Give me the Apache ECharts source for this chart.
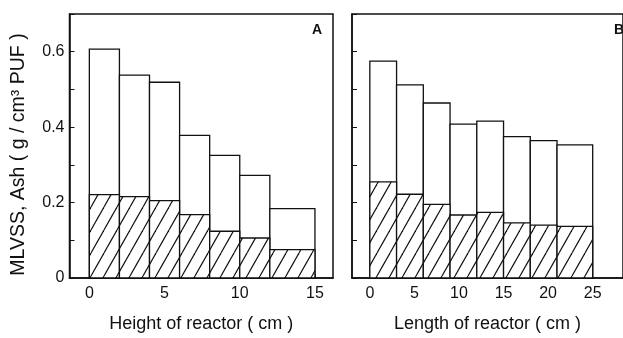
<!DOCTYPE html>
<html>
<head>
<meta charset="utf-8">
<script src="https://cdn.jsdelivr.net/npm/echarts@6/dist/echarts.min.js"></script>
<style>
html,body{margin:0;padding:0;background:#fff;}
#chart{width:623px;height:338px;}
</style>
</head>
<body>
<div id="chart"></div>
<script>
// ---- data ----
const aEdges = [0, 2, 4, 6, 8, 10, 12, 15];
const aMLVSS = [0.607, 0.538, 0.519, 0.378, 0.325, 0.272, 0.184];
const aAsh   = [0.221, 0.216, 0.205, 0.168, 0.124, 0.106, 0.075];
const bEdges = [0, 3, 6, 9, 12, 15, 18, 21, 25];
const bMLVSS = [0.575, 0.512, 0.464, 0.408, 0.416, 0.375, 0.364, 0.353];
const bAsh   = [0.255, 0.222, 0.195, 0.167, 0.174, 0.146, 0.140, 0.137];
const aTicks = [0, 5, 10, 15];
const bTicks = [0, 5, 10, 15, 20, 25];
const yLabels = [0, 0.2, 0.4, 0.6];
const yTicks = [0, 0.1, 0.2, 0.3, 0.4, 0.5, 0.6, 0.7];
const panelA = 'A', panelB = 'B';
const xNameA = 'Height of reactor ( cm )';
const xNameB = 'Length of reactor ( cm )';
const yName = 'MLVSS, Ash ( g / cm³ PUF )';

// ---- hatch pattern ----
function makeHatch() {
  const w = 13, h = 23;
  const c = document.createElement('canvas');
  c.width = w; c.height = h;
  const ctx = c.getContext('2d');
  ctx.fillStyle = '#fff';
  ctx.fillRect(0, 0, w, h);
  ctx.strokeStyle = '#111';
  ctx.lineWidth = 1.2;
  for (let k = -1; k <= 1; k++) {
    ctx.beginPath();
    ctx.moveTo(k * w, h);
    ctx.lineTo(k * w + w, 0);
    ctx.stroke();
  }
  return c;
}
const hatch = { image: makeHatch(), repeat: 'repeat' };

function toRects(edges, vals) {
  return vals.map((v, i) => [edges[i], edges[i + 1], v]);
}
function renderBar(fill) {
  return function (params, api) {
    const p0 = api.coord([api.value(0), api.value(2)]);
    const p1 = api.coord([api.value(1), 0]);
    return {
      type: 'rect',
      shape: { x: p0[0], y: p0[1], width: p1[0] - p0[0], height: p1[1] - p0[1] },
      style: { fill: fill, stroke: '#111', lineWidth: 1.3 }
    };
  };
}

const font = 'Liberation Sans, Arial, Helvetica, sans-serif';
const txt = '#111';

function xAxis(idx, min, max, ticks, name) {
  return {
    type: 'value', gridIndex: idx, min: min, max: max,
    name: name, nameLocation: 'middle', nameGap: 37,
    nameTextStyle: { fontFamily: font, fontSize: 18, color: txt },
    axisLine: { onZero: false, lineStyle: { color: '#111', width: 1.5 } },
    axisTick: { inside: true, length: 4, customValues: ticks, lineStyle: { color: '#111' } },
    axisLabel: { customValues: ticks, margin: 8, fontFamily: font, fontSize: 16, color: txt,
      formatter: v => String(v) },
    splitLine: { show: false }
  };
}
function yAxis(idx, showLabels) {
  return {
    type: 'value', gridIndex: idx, min: 0, max: 0.7,
    axisLine: { onZero: false, lineStyle: { color: '#111', width: 1.5 } },
    axisTick: { inside: true, length: 5, customValues: yTicks, lineStyle: { color: '#111' } },
    axisLabel: { show: showLabels, customValues: yLabels, margin: 5, fontFamily: font, fontSize: 16, color: txt,
      formatter: v => v === 0 ? '0' : v.toFixed(1) },
    splitLine: { show: false }
  };
}

const chart = echarts.init(document.getElementById('chart'), null, { renderer: 'canvas' });
chart.setOption({
  animation: false,
  backgroundColor: '#fff',
  grid: [
    { left: 69.5, right: 290, top: 14, bottom: 56, show: true, borderColor: '#111', borderWidth: 1.5, backgroundColor: 'transparent' },
    { left: 352, right: -16, top: 14, bottom: 56, show: true, borderColor: '#111', borderWidth: 1.5, backgroundColor: 'transparent' }
  ],
  xAxis: [xAxis(0, -1.32, 16.2, aTicks, xNameA), xAxis(1, -2, 28.4, bTicks, xNameB)],
  yAxis: [yAxis(0, true), yAxis(1, false)],
  title: [
    { text: panelA, left: 307, top: 18, textStyle: { fontFamily: font, fontSize: 14, fontWeight: 'bold', color: txt } },
    { text: panelB, left: 609, top: 18, textStyle: { fontFamily: font, fontSize: 14, fontWeight: 'bold', color: txt } }
  ],
  graphic: [
    { type: 'text', x: 19, y: 154.5, rotation: Math.PI / 2,
      style: { text: yName, fontFamily: font, fontSize: 19.5, fill: txt, align: 'center', verticalAlign: 'middle' } }
  ],
  series: [
    { type: 'custom', xAxisIndex: 0, yAxisIndex: 0, renderItem: renderBar('#fff'), data: toRects(aEdges, aMLVSS), encode: { x: [0, 1], y: 2 } },
    { type: 'custom', xAxisIndex: 0, yAxisIndex: 0, renderItem: renderBar(hatch), data: toRects(aEdges, aAsh), encode: { x: [0, 1], y: 2 } },
    { type: 'custom', xAxisIndex: 1, yAxisIndex: 1, renderItem: renderBar('#fff'), data: toRects(bEdges, bMLVSS), encode: { x: [0, 1], y: 2 } },
    { type: 'custom', xAxisIndex: 1, yAxisIndex: 1, renderItem: renderBar(hatch), data: toRects(bEdges, bAsh), encode: { x: [0, 1], y: 2 } }
  ]
});
</script>
</body>
</html>
